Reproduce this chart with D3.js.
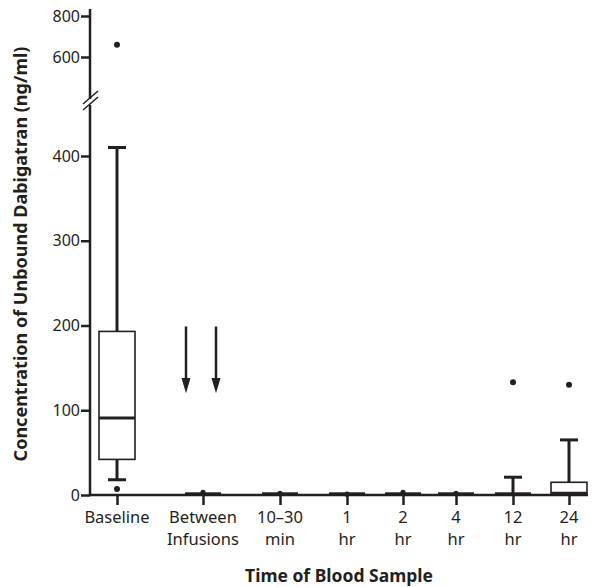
<!DOCTYPE html>
<html><head><meta charset="utf-8">
<script src="https://cdn.jsdelivr.net/npm/d3@7"></script>
<style>body{margin:0;background:#fff}text{font-family:"Noto Sans",sans-serif;fill:#231f20}</style>
</head><body><svg id="c" width="596" height="587"></svg>
<script>
const categories = ["Baseline", "Between|Infusions", "10–30|min", "1|hr", "2|hr", "4|hr", "12|hr", "24|hr"];
const whiskerLow = [18, 0, 0, 0, 0, 0, 0, 0];
const q1 = [42, 0, 0, 0, 0, 0, 0, 0.5];
const median = [91, 1, 1, 1, 1, 1, 1, 2];
const q3 = [193, 2, 2, 2, 2, 2, 2, 15];
const whiskerHigh = [410, 2, 2, 2, 2, 2, 21, 65];
const outliers = [[7, 660], [3], [2], [1], [3], [2], [133], [130]];
const lowerTicks = [0, 100, 200, 300, 400];
const upperTicks = [600, 800];

const svg = d3.select("#c");
const ink = "#231f20";
const xPos = [117, 203, 280, 347, 403, 456, 513, 569];
const x = d3.scaleOrdinal().domain(categories).range(xPos);
const yLow = d3.scaleLinear().domain([0, 400]).range([495, 156]);
const yHigh = d3.scaleLinear().domain([600, 800]).range([57, 16]);
const y = v => v > 500 ? yHigh(v) : yLow(v);
const axX = 90;

// Y axis lines with break
svg.append("line").attr("x1", axX).attr("x2", axX).attr("y1", 9).attr("y2", 99).attr("stroke", ink).attr("stroke-width", 2.5);
svg.append("line").attr("x1", axX).attr("x2", axX).attr("y1", 105).attr("y2", 496).attr("stroke", ink).attr("stroke-width", 2.5);
[0, 6].forEach(d => {
  svg.append("line").attr("x1", 83).attr("y1", 110 - d).attr("x2", 98).attr("y2", 97 - d).attr("stroke", ink).attr("stroke-width", 1.5);
});
const gL = svg.append("g").attr("transform", `translate(${axX},0)`).call(d3.axisLeft(yLow).tickValues(lowerTicks).tickSize(9).tickPadding(1).tickFormat(d3.format("d")));
const gH = svg.append("g").attr("transform", `translate(${axX},0)`).call(d3.axisLeft(yHigh).tickValues(upperTicks).tickSize(9).tickPadding(1).tickFormat(d3.format("d")));
[gL, gH].forEach(g => {
  g.select(".domain").remove();
  g.selectAll(".tick line").attr("stroke", ink).attr("stroke-width", 2.5);
  g.selectAll(".tick text").attr("font-size", 16).attr("font-family", "Noto Sans").attr("fill", ink);
});

// X axis
svg.append("line").attr("x1", axX - 1).attr("x2", 588).attr("y1", 495).attr("y2", 495).attr("stroke", ink).attr("stroke-width", 2.5);
const gx = svg.append("g").attr("transform", "translate(0,495)").call(d3.axisBottom(x).tickSize(10).tickFormat(""));
gx.select(".domain").remove();
gx.selectAll(".tick line").attr("stroke", ink).attr("stroke-width", 2.5);
categories.forEach(c => {
  const parts = c.split("|");
  const t = svg.append("text").attr("x", x(c)).attr("y", 523).attr("text-anchor", "middle").attr("font-size", 16.5);
  parts.forEach((p, i) => t.append("tspan").attr("x", x(c)).attr("dy", i ? 22 : 0).text(p));
});

// boxes
const bw = 36;
categories.forEach((c, i) => {
  const cx = x(c);
  const flat = q3[i] - q1[i] < 5;
  if (whiskerHigh[i] > q3[i] + 3) {
    svg.append("line").attr("x1", cx).attr("x2", cx).attr("y1", y(q3[i])).attr("y2", y(whiskerHigh[i])).attr("stroke", ink).attr("stroke-width", 3);
    svg.append("line").attr("x1", cx - 9).attr("x2", cx + 9).attr("y1", y(whiskerHigh[i])).attr("y2", y(whiskerHigh[i])).attr("stroke", ink).attr("stroke-width", 3);
  }
  if (q1[i] - whiskerLow[i] > 3) {
    svg.append("line").attr("x1", cx).attr("x2", cx).attr("y1", y(q1[i])).attr("y2", y(whiskerLow[i])).attr("stroke", ink).attr("stroke-width", 3);
    svg.append("line").attr("x1", cx - 9).attr("x2", cx + 9).attr("y1", y(whiskerLow[i])).attr("y2", y(whiskerLow[i])).attr("stroke", ink).attr("stroke-width", 3);
  }
  if (flat) {
    svg.append("rect").attr("x", cx - bw / 2).attr("width", bw).attr("y", y(q3[i]) - 1).attr("height", y(q1[i]) - y(q3[i]) + 1).attr("fill", ink);
  } else {
    svg.append("rect").attr("x", cx - bw / 2).attr("width", bw).attr("y", y(q3[i])).attr("height", y(q1[i]) - y(q3[i])).attr("fill", "#fff").attr("stroke", ink).attr("stroke-width", 1.6);
    svg.append("line").attr("x1", cx - bw / 2).attr("x2", cx + bw / 2).attr("y1", y(median[i])).attr("y2", y(median[i])).attr("stroke", ink).attr("stroke-width", 3);
  }
  outliers[i].forEach(v => {
    svg.append("circle").attr("cx", cx).attr("cy", y(v)).attr("r", v > 5 ? 3 : 2.6).attr("fill", ink);
  });
});

// arrows
const bx = x(categories[1]);
[bx - 17, bx + 13].forEach(ax => {
  svg.append("line").attr("x1", ax).attr("x2", ax).attr("y1", y(200) + 1).attr("y2", y(135)).attr("stroke", ink).attr("stroke-width", 2.5);
  svg.append("path").attr("d", `M${ax - 4.5},${y(138)} L${ax + 4.5},${y(138)} L${ax},${y(120)} Z`).attr("fill", ink);
});

// titles
svg.append("text").attr("transform", "translate(27,254) rotate(-90)").attr("text-anchor", "middle").attr("font-size", 18).attr("font-weight", "bold").text("Concentration of Unbound Dabigatran (ng/ml)");
svg.append("text").attr("x", 339).attr("y", 582).attr("text-anchor", "middle").attr("font-size", 17.5).attr("font-weight", "bold").text("Time of Blood Sample");
</script></body></html>
